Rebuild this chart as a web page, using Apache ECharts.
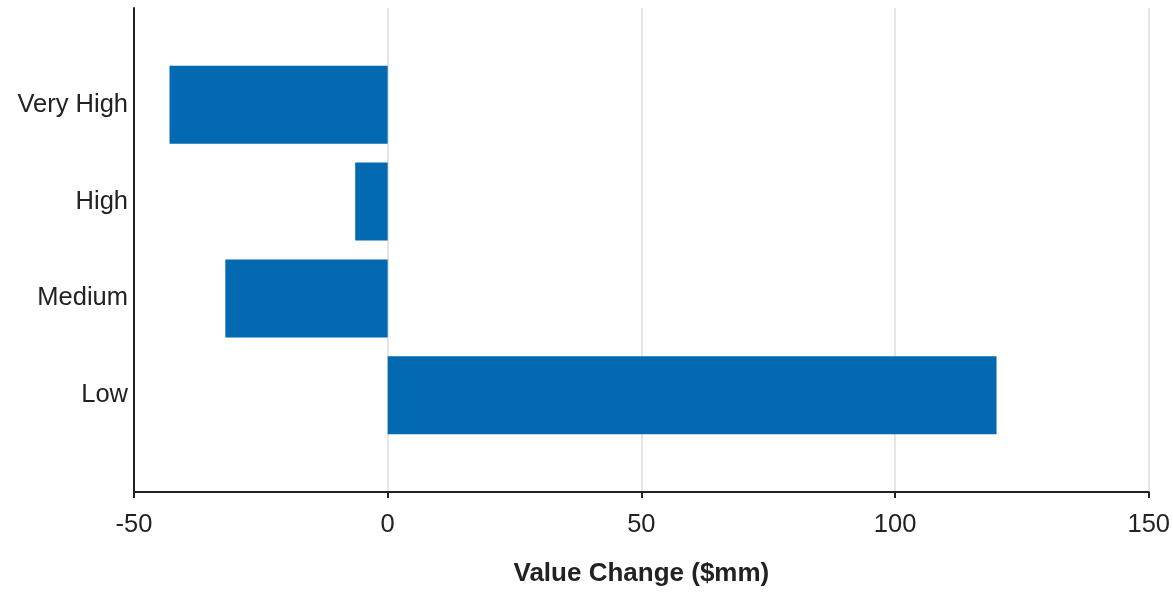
<!DOCTYPE html>
<html>
<head>
<meta charset="utf-8">
<script src="https://cdn.jsdelivr.net/npm/echarts@6/dist/echarts.min.js"></script>
<style>html,body{margin:0;padding:0;background:#fff;}#c{width:1173px;height:592px;}</style>
</head>
<body>
<div id="c"></div>
<script>
const categories = ['Low', 'Medium', 'High', 'Very High'];
const values = [120, -32, -6.4, -43];
const xTicks = [-50, 0, 50, 100, 150];
const xTitle = 'Value Change ($mm)';

const axisCats = [''].concat(categories, ['']);
const barData = [null].concat(values, [null]);

const chart = echarts.init(document.getElementById('c'), null, {renderer: 'canvas'});
const font = '"Liberation Sans", Arial, sans-serif';
chart.setOption({
  animation: false,
  backgroundColor: '#ffffff',
  grid: {left: 134, right: 24, top: 8, bottom: 95, containLabel: false},
  xAxis: {
    type: 'value',
    min: xTicks[0], max: xTicks[xTicks.length - 1], interval: 50,
    name: xTitle, nameLocation: 'middle', nameGap: 69,
    nameTextStyle: {fontFamily: font, fontSize: 26, fontWeight: 'bold', color: '#222'},
    axisLine: {show: true, onZero: false, lineStyle: {color: '#222', width: 2}},
    axisTick: {show: true, length: 6, lineStyle: {color: '#222', width: 2}},
    axisLabel: {fontFamily: font, fontSize: 25.5, color: '#222', margin: 20},
    splitLine: {show: true, lineStyle: {color: '#dcdcdc', width: 1.5}}
  },
  yAxis: {
    type: 'category',
    data: axisCats,
    boundaryGap: false,
    axisLine: {show: true, onZero: false, lineStyle: {color: '#222', width: 2}},
    axisTick: {show: false},
    axisLabel: {fontFamily: font, fontSize: 25.5, color: '#222', margin: 6},
    splitLine: {show: false}
  },
  series: [{
    type: 'bar',
    data: barData,
    barWidth: 78,
    itemStyle: {color: '#0369b1'}
  }]
});
</script>
</body>
</html>
